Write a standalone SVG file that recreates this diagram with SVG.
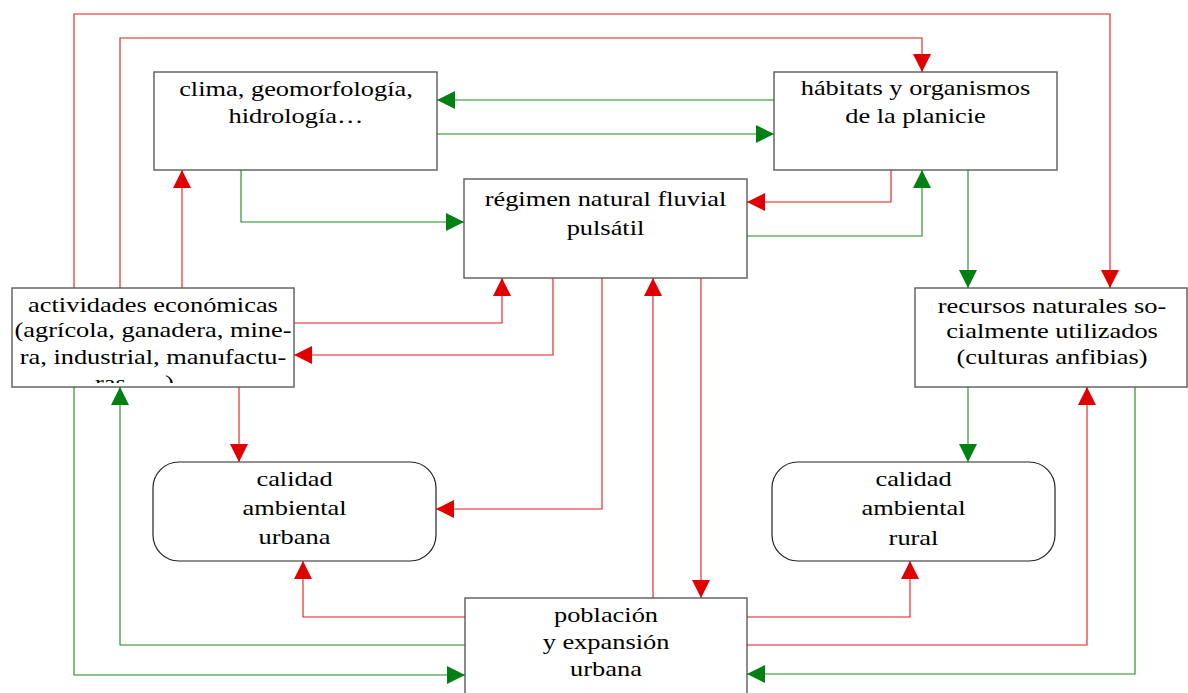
<svg xmlns="http://www.w3.org/2000/svg" width="1188" height="693" viewBox="0 0 1188 693">
<style>
.box{fill:#fff;stroke:#666;stroke-width:1.5}
.rbox{fill:#fff;stroke:#222;stroke-width:1.2}
.t{font-family:"Liberation Serif","Times New Roman",serif;font-size:22px;fill:#000;text-anchor:middle}
.ts{font-family:"Liberation Serif","Times New Roman",serif;font-size:22px;fill:#000;text-anchor:start}
.r{fill:none;stroke:#e01a1a;stroke-width:1.1;marker-end:url(#ar)}
.g{fill:none;stroke:#1a8a1a;stroke-width:1.1;marker-end:url(#ag)}
</style>
<defs>
<marker id="ar" markerUnits="userSpaceOnUse" markerWidth="18" markerHeight="18" refX="18" refY="9" orient="auto"><path d="M0,0 L18,9 L0,18 z" fill="#e00000"/></marker>
<marker id="ag" markerUnits="userSpaceOnUse" markerWidth="18" markerHeight="18" refX="18" refY="9" orient="auto"><path d="M0,0 L18,9 L0,18 z" fill="#008010"/></marker>
<clipPath id="clipAct"><rect x="12" y="288" width="282" height="95"/></clipPath>
</defs>
<rect width="1188" height="693" fill="#fff"/>

<g id="clima">
<rect class="box" x="154" y="72" width="283" height="98"/>
<text class="t" transform="translate(296 0) scale(1.2 1)"><tspan x="0" y="96">clima, geomorfología,</tspan><tspan x="0" y="123">hidrología…</tspan></text>
</g>
<g id="habitats">
<rect class="box" x="774" y="72" width="283" height="98"/>
<text class="t" transform="translate(915.5 0) scale(1.2 1)"><tspan x="0" y="95">hábitats y organismos</tspan><tspan x="0" y="123">de la planicie</tspan></text>
</g>
<g id="regimen">
<rect class="box" x="464" y="179" width="283" height="99"/>
<text class="t" transform="translate(605.5 0) scale(1.2 1)"><tspan x="0" y="206">régimen natural fluvial</tspan><tspan x="0" y="235">pulsátil</tspan></text>
</g>
<g id="actividades">
<rect class="box" x="12" y="288" width="282" height="99"/>
<g clip-path="url(#clipAct)">
<text class="t" transform="translate(153 0) scale(1.2 1)"><tspan x="0" y="312">actividades económicas</tspan><tspan x="0" y="337">(agrícola, ganadera, mine-</tspan><tspan x="0" y="364">ra,  industrial, manufactu-</tspan></text>
<text class="ts" transform="translate(95 0) scale(1.2 1)" x="0" y="390">ras,  …)</text>
</g>
</g>
<g id="recursos">
<rect class="box" x="915" y="288" width="272" height="99"/>
<text class="t" transform="translate(1052 0) scale(1.2 1)"><tspan x="0" y="313">recursos naturales so-</tspan><tspan x="0" y="338">cialmente utilizados</tspan><tspan x="0" y="364">(culturas anfibias)</tspan></text>
</g>
<g id="calidad-urbana">
<rect class="rbox" x="153" y="462" width="283" height="99" rx="26" ry="26"/>
<text class="t" transform="translate(294.5 0) scale(1.2 1)"><tspan x="0" y="486">calidad</tspan><tspan x="0" y="515">ambiental</tspan><tspan x="0" y="544">urbana</tspan></text>
</g>
<g id="calidad-rural">
<rect class="rbox" x="772" y="462" width="283" height="99" rx="26" ry="26"/>
<text class="t" transform="translate(913.5 0) scale(1.2 1)"><tspan x="0" y="486">calidad</tspan><tspan x="0" y="515">ambiental</tspan><tspan x="0" y="545">rural</tspan></text>
</g>
<g id="poblacion">
<rect class="box" x="465" y="598" width="282" height="110"/>
<text class="t" transform="translate(606 0) scale(1.2 1)"><tspan x="0" y="622">población</tspan><tspan x="0" y="649">y expansión</tspan><tspan x="0" y="676">urbana</tspan></text>
</g>

<g id="connectors">
<path class="r" d="M74,288 V14 H1110 V288"/>
<path class="r" d="M120,288 V38 H922 V72"/>
<path class="r" d="M182,288 V170"/>
<path class="r" d="M294,323 H502 V278"/>
<path class="r" d="M553,278 V355 H294"/>
<path class="r" d="M239,387 V462"/>
<path class="r" d="M602,278 V509 H436"/>
<path class="r" d="M653,598 V278"/>
<path class="r" d="M701,278 V598"/>
<path class="r" d="M465,617 H303 V561"/>
<path class="r" d="M747,617 H910 V561"/>
<path class="r" d="M747,645 H1087 V387"/>
<path class="r" d="M891,170 V202 H747"/>
<path class="g" d="M774,100 H437"/>
<path class="g" d="M437,134 H774"/>
<path class="g" d="M241,170 V222 H464"/>
<path class="g" d="M747,236 H922 V170"/>
<path class="g" d="M968,170 V288"/>
<path class="g" d="M968,387 V462"/>
<path class="g" d="M465,645 H120 V387"/>
<path class="g" d="M74,387 V675 H465"/>
<path class="g" d="M1135,387 V674 H747"/>
</g>
</svg>
